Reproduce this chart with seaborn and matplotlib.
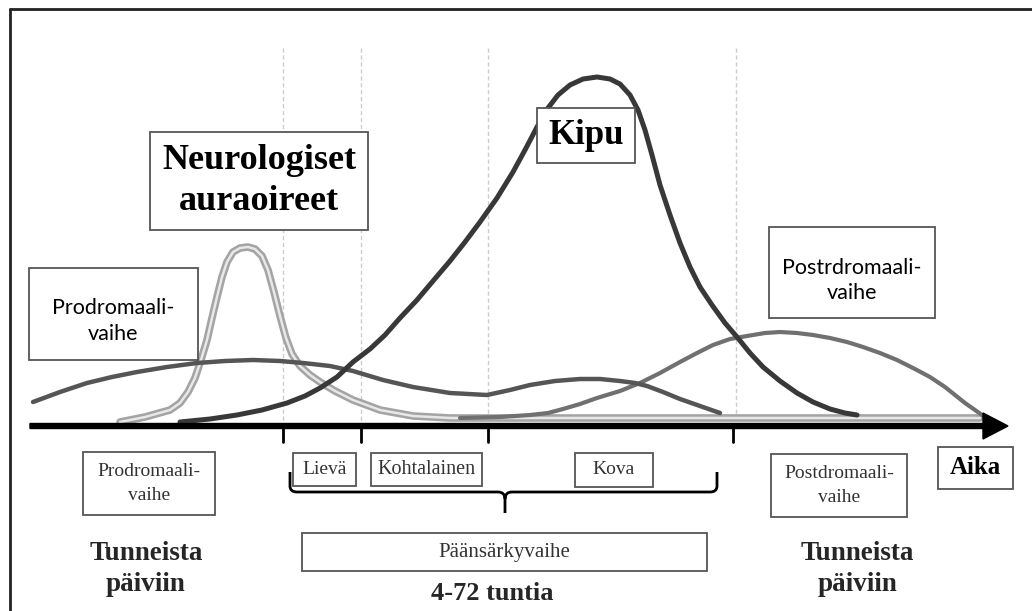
import numpy as np
import matplotlib
matplotlib.use('Agg')
import matplotlib.pyplot as plt
from matplotlib.patches import Rectangle, PathPatch
from matplotlib.path import Path
import seaborn as sns

sns.set_theme(style='white')
plt.rcParams['font.family'] = ['Liberation Serif', 'DejaVu Serif']

SERIF = 'Liberation Serif'
SANS = 'Lato'

# curves (x = time, y = screen height, downwards)
prodrome_x = [33, 60, 87, 112, 137, 167, 197, 225, 253, 280, 303, 330, 353, 383, 413, 450, 487, 510, 530,
              555, 580, 600, 620, 635, 647, 663, 680, 700, 720]
prodrome_y = [402, 392, 383, 377, 372, 367, 363, 361, 360, 361, 363, 366, 371, 380, 387, 393, 395, 390, 385,
              381, 379, 379, 381, 383, 386, 392, 399, 406, 413]

aura_x = [120, 145, 170, 180, 188, 195, 201, 207, 212, 217, 222, 227, 233, 240, 248, 255, 262, 268, 274, 280,
          286, 292, 300, 310, 320, 335, 353, 380, 413, 450, 600, 800, 980]
aura_y = [422, 417, 410, 403, 392, 378, 360, 340, 318, 297, 277, 262, 252, 248, 247, 249, 256, 270, 292, 316,
          338, 354, 366, 375, 382, 391, 400, 410, 416, 418, 418, 418, 418]

pain_x = [180, 210, 237, 262, 287, 305, 320, 337, 353, 370, 385, 400, 417, 433, 450, 465, 480, 497, 513, 525,
          537, 548, 558, 570, 583, 597, 610, 620, 630, 638, 645, 652, 660, 670, 680, 690, 700, 712, 725, 737,
          750, 763, 780, 797, 813, 830, 845, 857]
pain_y = [422, 419, 415, 410, 403, 396, 388, 377, 362, 349, 335, 318, 300, 281, 261, 242, 222, 198, 172, 150,
          127, 108, 95, 85, 79, 77, 79, 84, 95, 110, 130, 155, 185, 215, 243, 267, 287, 305, 323, 337,
          353, 367, 381, 393, 402, 409, 413, 415]

postdrome_x = [460, 500, 530, 548, 563, 580, 597, 620, 640, 660, 680, 697, 713, 730, 747, 765, 780, 797, 813,
               830, 847, 863, 880, 897, 913, 930, 945, 955, 965, 975, 982]
postdrome_y = [418, 417, 415, 413, 409, 404, 398, 391, 383, 373, 362, 353, 345, 339, 336, 333, 332, 333, 335,
               338, 342, 347, 353, 360, 368, 377, 387, 395, 403, 410, 415]

phase_ticks = [283, 361, 488, 733]
guide_lines = [283, 361, 488, 736]

fig = plt.figure(figsize=(10.32, 6.11), dpi=100)
ax = fig.add_axes([0, 0, 1, 1])
ax.set_xlim(0, 1032)
ax.set_ylim(611, 0)
ax.axis('off')

# outer frame (only top and left edge visible)
ax.plot([10, 1032], [9, 9], color='#222222', lw=2)
ax.plot([10, 10], [9, 611], color='#222222', lw=2)

# dashed guides
for gx in guide_lines:
    ax.plot([gx, gx], [48, 424], color='#cccccc', lw=1, linestyle=(0, (3, 2)), zorder=1)

# curves
line_kw = dict(ax=ax, sort=False, estimator=None, solid_capstyle='round', solid_joinstyle='round')
sns.lineplot(x=aura_x, y=aura_y, color='#a4a4a4', lw=5.5, zorder=3, **line_kw)
sns.lineplot(x=aura_x, y=aura_y, color='#e8e8e8', lw=1.8, zorder=3, **line_kw)
sns.lineplot(x=postdrome_x, y=postdrome_y, color='#707070', lw=3, zorder=4, **line_kw)
sns.lineplot(x=prodrome_x, y=prodrome_y, color='#555555', lw=3.2, zorder=4, **line_kw)
sns.lineplot(x=pain_x, y=pain_y, color='#383838', lw=3.6, zorder=5, **line_kw)

# time axis
ax.arrow(30, 426, 978, 0, width=5, head_width=26, head_length=25, length_includes_head=True,
         color='black', zorder=6)
for tx in phase_ticks:
    ax.plot([tx, tx], [426, 442], color='black', lw=2, zorder=6)

# brace under headache phases
verts = [(290, 472), (290, 486), (290, 492), (297, 492), (498, 492), (505, 492), (505, 499), (505, 513),
         (505, 499), (505, 492), (512, 492), (710, 492), (717, 492), (717, 486), (717, 472)]
codes = [Path.MOVETO, Path.LINETO, Path.CURVE3, Path.CURVE3, Path.LINETO, Path.CURVE3, Path.CURVE3, Path.LINETO,
         Path.MOVETO, Path.CURVE3, Path.CURVE3, Path.LINETO, Path.CURVE3, Path.CURVE3, Path.LINETO]
ax.add_patch(PathPatch(Path(verts, codes), facecolor='none', edgecolor='black', lw=2, zorder=6))


def box(x0, y0, x1, y1, text, font, size, weight='normal', color='black', spacing=1.3, dy=0):
    ax.add_patch(Rectangle((x0, y0), x1 - x0, y1 - y0, facecolor='white', edgecolor='#555555',
                           lw=1.3, zorder=7))
    ax.text((x0 + x1) / 2, (y0 + y1) / 2 + dy, text, ha='center', va='center', family=font, fontsize=size,
            fontweight=weight, color=color, linespacing=spacing, zorder=8)


box(150, 132, 368, 230, 'Neurologiset\nauraoireet', SERIF, 26, 'bold', spacing=1.32)
box(29, 268, 198, 360, 'Prodromaali-\nvaihe', SANS, 15.5, spacing=1.35, dy=7)
box(537, 108, 635, 163, 'Kipu', SERIF, 25, 'bold')
box(769, 227, 935, 318, 'Postrdromaali-\nvaihe', SANS, 15.5, spacing=1.35, dy=8)

box(83, 452, 215, 515, 'Prodromaali-\nvaihe', SERIF, 14, color='#333333', spacing=1.5)
box(293, 453, 356, 486, 'Lievä', SERIF, 14, color='#333333')
box(371, 453, 482, 486, 'Kohtalainen', SERIF, 14.5, color='#333333')
box(575, 453, 653, 487, 'Kova', SERIF, 14, color='#333333')
box(302, 533, 707, 571, 'Päänsärkyvaihe', SERIF, 15, color='#333333')
box(771, 454, 907, 517, 'Postdromaali-\nvaihe', SERIF, 14, color='#333333', spacing=1.5)
box(938, 447, 1013, 489, 'Aika', SERIF, 18, 'bold')

for cx in [146, 857]:
    ax.text(cx, 569, 'Tunneista\npäiviin', ha='center', va='center', family=SERIF, fontsize=19.5,
            fontweight='bold', linespacing=1.3)
ax.text(492, 593, '4-72 tuntia', ha='center', va='center', family=SERIF, fontsize=19, fontweight='bold')

fig.savefig('out.png', dpi=100)
